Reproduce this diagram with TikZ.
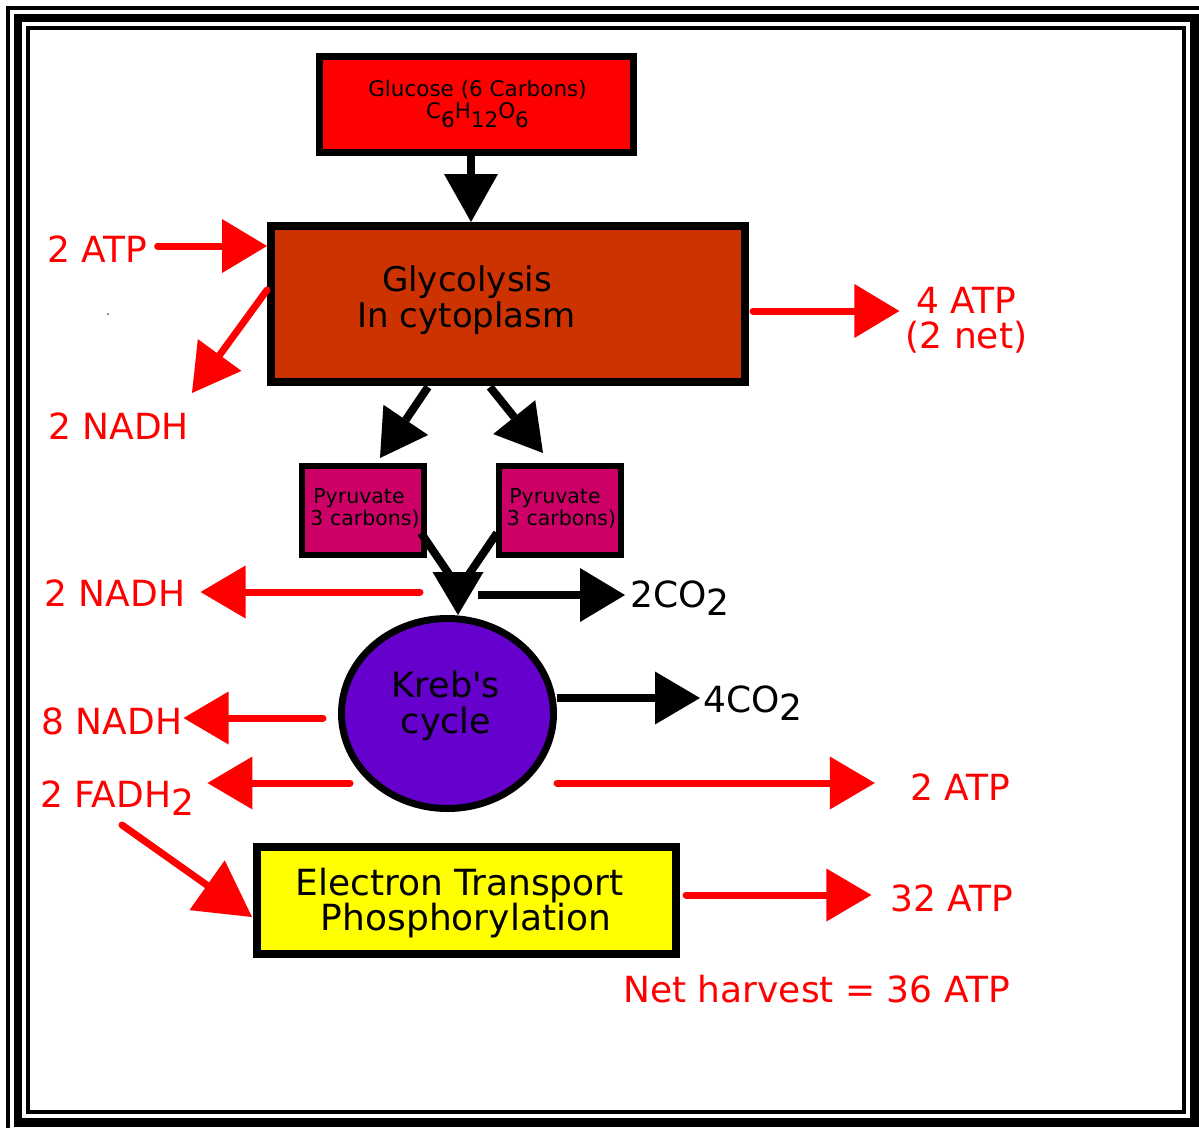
\documentclass[tikz,border=0pt]{standalone}
\usepackage{fontspec}
\setmainfont{DejaVu Sans}
\usetikzlibrary{arrows.meta,shapes.geometric,calc}
\definecolor{glucred}{HTML}{FF0000}
\definecolor{glycbrown}{HTML}{CC3300}
\definecolor{pyrmag}{HTML}{CC0066}
\definecolor{krebpurple}{HTML}{6600CC}
\definecolor{etpyellow}{HTML}{FFFF00}
\definecolor{lblred}{HTML}{FF0000}
\newcommand{\subdn}[2][9pt]{\lower#1\hbox{#2}}
\tikzset{
  box/.style={draw=black, rectangle, inner sep=0pt},
  txtsmall/.style={text=black, inner sep=0pt, font=\fontsize{20.5}{24}\selectfont},
  txtglu/.style={text=black, inner sep=0pt, font=\fontsize{21.5}{24}\selectfont},
  txtbig/.style={text=black, inner sep=0pt, font=\fontsize{34}{36}\selectfont},
  txtkreb/.style={text=black, inner sep=0pt, font=\fontsize{35}{36}\selectfont},
  txtetp/.style={text=black, inner sep=0pt, font=\fontsize{36}{36}\selectfont},
  lbl/.style={text=lblred, inner sep=0pt, font=\fontsize{36}{40}\selectfont},
  blklbl/.style={text=black, inner sep=0pt, font=\fontsize{36}{40}\selectfont},
  redarr/.style={draw=lblred, line width=7pt, line cap=round,
    -{Triangle[length=45pt,width=54pt,line width=0pt]}},
  blkarr/.style={draw=black, line width=8pt,
    -{Triangle[length=46pt,width=54pt,line width=0pt]}},
  blkline/.style={draw=black, line width=8pt},
}
\begin{document}
\begin{tikzpicture}[x=1pt,y=-1pt]
\useasboundingbox (0,0) rectangle (1199,1127);
\clip (0,0) rectangle (1199,1127);
\fill[white] (0,0) rectangle (1199,1127);
% frame
\draw[line width=4pt] (8,8) rectangle (1220,1150);
\draw[line width=8.5pt] (18,18) rectangle (1194.5,1122.5);
\draw[line width=4pt] (28,28) rectangle (1184,1112);
\fill[black!70] (108,314) circle (1);

% boxes
\node[box, line width=7pt, fill=glucred, minimum width=314pt, minimum height=96pt] (glu) at (476.5,104.5) {};
\node[box, line width=8pt, fill=glycbrown, minimum width=474pt, minimum height=156pt] (glyc) at (508,304) {};
\node[box, line width=6pt, fill=pyrmag, minimum width=122pt, minimum height=89pt] (pyrL) at (363,510.5) {};
\node[box, line width=6pt, fill=pyrmag, minimum width=122pt, minimum height=89pt] (pyrR) at (559.5,510.5) {};
\node[draw=black, ellipse, inner sep=0pt, line width=7pt, fill=krebpurple, minimum width=212pt, minimum height=190pt] (krebs) at (447.5,713.5) {};
\node[box, line width=8pt, fill=etpyellow, minimum width=419pt, minimum height=107pt] (etp) at (466.5,900.5) {};

% box texts
\node[txtglu, anchor=base] (glut1) at (477.5,96) {Glucose (6 Carbons)};
\node[txtglu, anchor=base] (glut2) at (477.5,118) {C\subdn{6}H\subdn{12}O\subdn{6}};
\node[txtbig, anchor=base] (glyt1) at (467,291) {Glycolysis};
\node[txtbig, anchor=base] (glyt2) at (466.5,327) {In cytoplasm};
\node[txtsmall, anchor=base] (pyrLt1) at (359,503) {Pyruvate};
\node[txtsmall, anchor=base] (pyrLt2) at (365,525) {3 carbons)};
\node[txtsmall, anchor=base] (pyrRt1) at (555,503) {Pyruvate};
\node[txtsmall, anchor=base] (pyrRt2) at (561.5,525) {3 carbons)};
\node[txtkreb, anchor=base] (krebt1) at (446,697) {Kreb\textquotesingle s};
\node[txtkreb, anchor=base] (krebt2) at (446,733) {cycle};
\node[txtetp, anchor=base] (etpt1) at (459.5,895) {Electron Transport};
\node[txtetp, anchor=base] (etpt2) at (466,930) {Phosphorylation};

% labels
\node[lbl, anchor=base] (atp1) at (97.5,262) {2 ATP};
\node[lbl, anchor=base] (nadh1) at (118.5,439) {2 NADH};
\node[lbl, anchor=base] (atp4) at (966.5,313) {4 ATP};
\node[lbl, anchor=base] (atp4b) at (966.5,348) {(2 net)};
\node[lbl, anchor=base] (nadh2) at (115,606) {2 NADH};
\node[blklbl, anchor=base west] (co2a) at (630,607) {2CO\subdn[8pt]{2}};
\node[blklbl, anchor=base west] (co2b) at (703,712) {4CO\subdn[8pt]{2}};
\node[lbl, anchor=base] (nadh8) at (112,734) {8 NADH};
\node[lbl, anchor=base west] (fadh) at (40,807) {2 FADH\subdn[8pt]{2}};
\node[lbl, anchor=base] (atp2) at (960,800) {2 ATP};
\node[lbl, anchor=base] (atp32) at (952,911) {32 ATP};
\node[lbl, anchor=base] (net) at (816.5,1002) {Net harvest = 36 ATP};

\coordinate (merge) at (458,572);

% connectors
\draw[blkarr, -{Triangle[length=48pt,width=54pt,line width=0pt]}] ($(glu.south)+(-5.5,0)$) -- ($(glyc.north)+(-37,0)$);
\draw[redarr] ($(atp1.base east)+(10,-16)$) -- ($(glyc.west)+(0,-58)$);
\draw[redarr, -{Triangle[length=47pt,width=54pt,line width=0pt]}] ($(glyc.west)+(0,-14)$) -- ($(nadh1.base)+(73.5,-46)$);
\draw[redarr] ($(glyc.east)+(4,7)$) -- ($(atp4.base west)+(-17,-2)$);
\draw[blkarr] ($(glyc.south)+(-80,1)$) -- ($(pyrL.north)+(17,-5)$);
\draw[blkarr] ($(glyc.south)+(-18,1)$) -- ($(pyrR.north)+(-16.5,-10)$);
\draw[blkline] ($(pyrL.south east)+(-6,-25)$) -- ($(merge)+(-5,8)$);
\draw[blkline] ($(pyrR.south west)+(1.5,-25)$) -- ($(merge)+(7,8)$);
\draw[blkarr, -{Triangle[length=43pt,width=51pt,line width=0pt]}] (merge) -- ($(krebs.north)+(10.5,0)$);
\draw[redarr, -{Triangle[length=45pt,width=53pt,line width=0pt]}] ($(merge)+(-38,20)$) -- ($(nadh2.base east)+(15,-14)$);
\draw[blkarr, -{Triangle[length=45pt,width=54pt,line width=0pt]}] ($(merge)+(20,23)$) -- ($(co2a.base west)+(-5,-12)$);
\draw[blkarr, -{Triangle[length=45pt,width=53pt,line width=0pt]}] ($(krebs.east)+(0,-15.5)$) -- ($(co2b.base west)+(-3,-14)$);
\draw[redarr, -{Triangle[length=45pt,width=53pt,line width=0pt]}] ($(krebs.west)+(-15,4.5)$) -- ($(nadh8.base east)+(1,-16)$);
\draw[redarr, -{Triangle[length=45pt,width=53pt,line width=0pt]}] ($(krebs.center)+(-97.5,69.5)$) -- ($(fadh.base east)+(13,-24)$);
\draw[redarr, -{Triangle[length=45pt,width=53pt,line width=0pt]}] ($(krebs.center)+(109.5,69.5)$) -- ($(atp2.base west)+(-35,-17)$);
\draw[redarr, -{Triangle[length=55pt,width=61pt,line width=0pt]}] ($(fadh.base west)+(82,18)$) -- ($(etp.west)+(-1,16.5)$);
\draw[redarr, -{Triangle[length=45pt,width=53pt,line width=0pt]}] ($(etp.east)+(6,-5.5)$) -- ($(atp32.base west)+(-19,-16)$);
\end{tikzpicture}
\end{document}
